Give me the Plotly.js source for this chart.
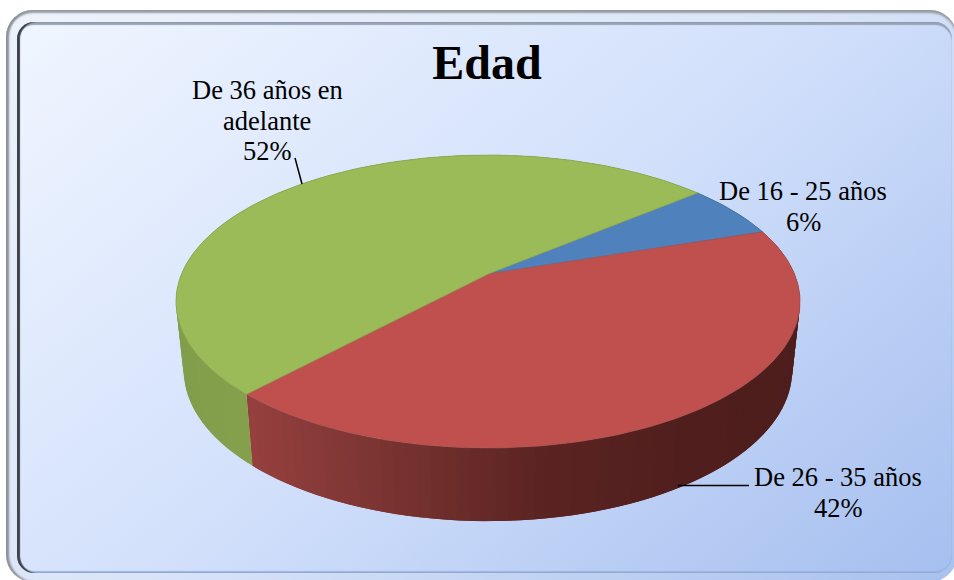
<!DOCTYPE html>
<html>
<head>
<meta charset="utf-8">
<script src="https://cdn.plot.ly/plotly-3.0.1.min.js"></script>
<style>
html,body{margin:0;padding:0;background:#fff;width:954px;height:580px;overflow:hidden}
#outer{position:absolute;left:6px;top:10px;width:951px;height:572px;border-radius:27px;
 background:linear-gradient(140deg,#eef3fb 0%,#d9e4f8 50%,#a8c1ee 100%);
 box-shadow:inset 3px 0 2px #8d929a,inset 0 3px 2px #9a9fa6}
#inner{position:absolute;left:17px;top:22px;width:935px;height:551px;border-radius:17px;
 background:linear-gradient(140deg,#f0f6ff 0%,#d2e0fb 50%,#a5bfef 100%);
 box-shadow:inset 3px 0 1px #3e434b,inset 0 3px 1px #98a3b5,inset 0 -2px 1px #9db5e2}
#chart{position:absolute;left:0;top:0;width:954px;height:580px}
</style>
</head>
<body>
<div id="outer"></div>
<div id="inner"></div>
<div id="chart"></div>
<script>
// Data
const chartTitle = 'Edad';
const categories = ['De 16 - 25 años', 'De 26 - 35 años', 'De 36 años en<br>adelante'];
const percents = [6, 42, 52];
const topColors = ['#4f81bd', '#c0504d', '#9bbb59'];
const edgeColors = ['#47739f', '#a9524f', '#8ba84f'];

// Presentation of the tilted pie, in chart-axis units
const firstSliceAngle = 50;
const labelX = [803, 838, 267];
const labelY = [191, 477, 90];
const labelStep = 30.5;
const leaderX = [[], [678, 749], [295, 302]];
const leaderY = [[], [485.5, 485.5], [158, 184]];
const cx = 488, apexY = 274, halfW = 306.5, halfH = 141.3, persp = 0.1877;
const wallA = 0.975, wallB = 1.03, wallY = 342;

const rad = d => d * Math.PI / 180;
function rim(deg, lower) {
  const u = Math.sin(rad(deg)), v = Math.cos(rad(deg));
  const s = 1 / (1 + persp * v);
  return lower
    ? [cx + wallA * halfW * u * s, wallY - wallB * halfH * v * s]
    : [cx + halfW * u * s, apexY - halfH * v * s];
}
function lerpStops(stops, t) {
  if (t <= stops[0][0]) return stops[0][1];
  for (let i = 1; i < stops.length; i++) {
    if (t <= stops[i][0]) {
      const f = (t - stops[i-1][0]) / (stops[i][0] - stops[i-1][0]);
      const a = stops[i-1][1], b = stops[i][1];
      return a.map((c, k) => c + (b[k] - c) * f);
    }
  }
  return stops[stops.length-1][1];
}
const wallShades = [
  [[0,[70,100,140]],[1,[70,100,140]]],
  [[-0.68,[152,65,63]],[-0.3,[126,54,52]],[0.17,[91,36,34]],[0.6,[79,30,29]],[1,[77,30,29]]],
  [[-1,[130,157,74]],[-0.68,[132,160,76]],[1,[132,160,76]]]
];

const traces = [];
let start = firstSliceAngle;
const ranges = percents.map(p => { const r = [start, start + p * 3.6]; start = r[1]; return r; });

// side wall: overlapping narrow bands, painted so no seam shows between them
ranges.forEach((r, i) => {
  const step = 2;
  for (let a = r[1] - step; a > r[0] - step; a -= step) {
    const lo = Math.max(a, r[0]);
    const hi = Math.min(a + 2 * step, r[1]);
    const pts = [];
    for (let d = lo; d < hi; d += 0.5) pts.push(rim(d,false));
    pts.push(rim(hi,false));
    for (let d = hi; d > lo; d -= 0.5) pts.push(rim(d,true));
    pts.push(rim(lo,true), rim(lo,false));
    const mid = Math.sin(rad(Math.max(a, r[0]) + step / 2));
    const c = lerpStops(wallShades[i], mid).map(Math.round);
    const col = 'rgb(' + c.join(',') + ')';
    traces.push({type:'scatter', mode:'lines', x:pts.map(p=>p[0]), y:pts.map(p=>p[1]),
      fill:'toself', fillcolor:col, line:{color:col, width:0}, hoverinfo:'skip', showlegend:false});
  }
});
// top face
ranges.forEach((r, i) => {
  const xs = [cx], ys = [apexY];
  for (let a = r[0]; a <= r[1] + 1e-6; a += 1) { const p = rim(a,false); xs.push(p[0]); ys.push(p[1]); }
  const e = rim(r[1],false); xs.push(e[0], cx); ys.push(e[1], apexY);
  traces.push({type:'scatter', mode:'lines', x:xs, y:ys, fill:'toself', fillcolor:topColors[i],
    line:{color:edgeColors[i], width:0.8}, name:categories[i], hoverinfo:'name', showlegend:false});
});
// leader lines
leaderX.forEach((lx, i) => {
  if (lx.length) traces.push({type:'scatter', mode:'lines', x:lx, y:leaderY[i],
    line:{color:'#000', width:1.5}, hoverinfo:'skip', showlegend:false});
});

const annotations = [];
categories.forEach((c, i) => {
  c.split('<br>').concat(percents[i] + '%').forEach((line, k) => {
    annotations.push({x:labelX[i], y:labelY[i] + k * labelStep, xref:'x', yref:'y',
      text:line, showarrow:false, xanchor:'center', yanchor:'middle',
      font:{family:'Liberation Serif', size:26.5, color:'#000'}});
  });
});

const layout = {
  width:954, height:580, margin:{l:0,r:0,t:0,b:0},
  paper_bgcolor:'rgba(0,0,0,0)', plot_bgcolor:'rgba(0,0,0,0)', showlegend:false,
  title:{text:'<b>'+chartTitle+'</b>', x:487/954, xanchor:'center', xref:'paper',
    y:1-62/580, yanchor:'middle', yref:'container',
    font:{family:'Liberation Serif', size:48, color:'#000'}},
  xaxis:{range:[0,954], visible:false, fixedrange:true},
  yaxis:{range:[580,0], visible:false, fixedrange:true},
  annotations: annotations
};
Plotly.newPlot('chart', traces, layout, {displayModeBar:false, staticPlot:true});
</script>
</body>
</html>
